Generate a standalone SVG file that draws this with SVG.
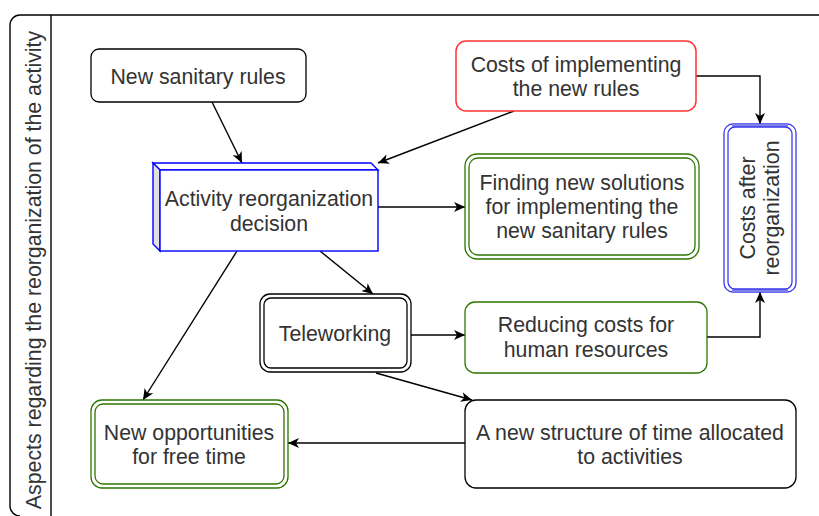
<svg xmlns="http://www.w3.org/2000/svg" width="819" height="516" viewBox="0 0 819 516">
<defs>
<marker id="arr" markerUnits="userSpaceOnUse" markerWidth="12" markerHeight="10" refX="11" refY="5" orient="auto">
<path d="M0,0 L11,5 L0,10 L3,5 Z" fill="#000"/>
</marker>
<style>
text{font-family:"Liberation Sans",Arial,sans-serif;font-size:21.3px;fill:#333;text-anchor:middle}
.c{fill:none;stroke:#000;stroke-width:1.4;marker-end:url(#arr)}
.b{fill:#fff;stroke:#000;stroke-width:1.3}
.g{fill:#fff;stroke:#2D7600;stroke-width:1.3}
.r{fill:#fff;stroke:#ff3333;stroke-width:1.5}
.bl{fill:#fff;stroke:#3a3aee;stroke-width:1.3}
</style>
</defs>
<rect width="819" height="516" fill="#fff"/>
<g id="pool">
<path d="M819,15 H20 A10,10 0 0 0 10,25 V506 A10,10 0 0 0 20,516" fill="none" stroke="#000" stroke-width="1.4"/>
<line x1="51" y1="15" x2="51" y2="516" stroke="#000" stroke-width="1.4"/>
<text transform="translate(41,270) rotate(-90)">Aspects regarding the reorganization of the activity</text>
</g>
<g id="connectors">
<path class="c" d="M212,102 L242,163"/>
<path class="c" d="M514,111 L378,163"/>
<path class="c" d="M696,76 H760 V124"/>
<path class="c" d="M378,207 H465"/>
<path class="c" d="M320,251 L373,294"/>
<path class="c" d="M237,251 L143,400"/>
<path class="c" d="M411,335 H465"/>
<path class="c" d="M707,337 H760 V292"/>
<path class="c" d="M376,373 L472,400"/>
<path class="c" d="M465,443 H288"/>
</g>
<g id="n1">
<rect class="b" x="91" y="49" width="215" height="53" rx="8"/>
<text x="198" y="84">New sanitary rules</text>
</g>
<g id="n2">
<rect class="r" x="456" y="41" width="240" height="70" rx="10"/>
<text x="576" y="72">Costs of implementing</text>
<text x="576" y="96">the new rules</text>
</g>
<g id="n3">
<path d="M153,163 L371,163 L378,170 L160,170 Z" fill="#fff" stroke="#0000ff" stroke-width="1.4"/>
<path d="M153,163 L160,170 L160,251 L153,244 Z" fill="#e0e0e0" stroke="#0000ff" stroke-width="1.4"/>
<rect x="160" y="170" width="218" height="81" fill="#fff" stroke="#0000ff" stroke-width="1.4"/>
<text x="269" y="206">Activity reorganization</text>
<text x="269" y="231">decision</text>
</g>
<g id="n4">
<rect class="g" x="465" y="154" width="234" height="105" rx="12"/>
<rect class="g" x="469" y="158" width="226" height="97" rx="9"/>
<text x="582" y="190">Finding new solutions</text>
<text x="582" y="214">for implementing the</text>
<text x="582" y="238">new sanitary rules</text>
</g>
<g id="n5">
<rect class="bl" x="724" y="124" width="72" height="168" rx="9"/>
<path d="M732,125.5 H788 M732,290.5 H788" stroke="#8080ee" stroke-width="3"/>
<rect class="bl" x="728" y="127" width="64" height="162" rx="7"/>
<text transform="translate(755,208) rotate(-90)">Costs after</text>
<text transform="translate(779,208) rotate(-90)">reorganization</text>
</g>
<g id="n6">
<rect class="b" x="260" y="294" width="151" height="78" rx="10"/>
<rect class="b" x="264" y="298" width="143" height="70" rx="7"/>
<text x="335" y="341">Teleworking</text>
</g>
<g id="n7">
<rect class="g" x="465" y="302" width="242" height="71" rx="10"/>
<text x="586" y="332">Reducing costs for</text>
<text x="586" y="357">human resources</text>
</g>
<g id="n8">
<rect class="g" x="91" y="400" width="197" height="88" rx="11"/>
<rect class="g" x="95" y="404" width="189" height="80" rx="8"/>
<text x="189" y="440">New opportunities</text>
<text x="189" y="464">for free time</text>
</g>
<g id="n9">
<rect class="b" x="465" y="400" width="331" height="88" rx="11"/>
<text x="630" y="440">A new structure of time allocated</text>
<text x="630" y="464">to activities</text>
</g>
</svg>
